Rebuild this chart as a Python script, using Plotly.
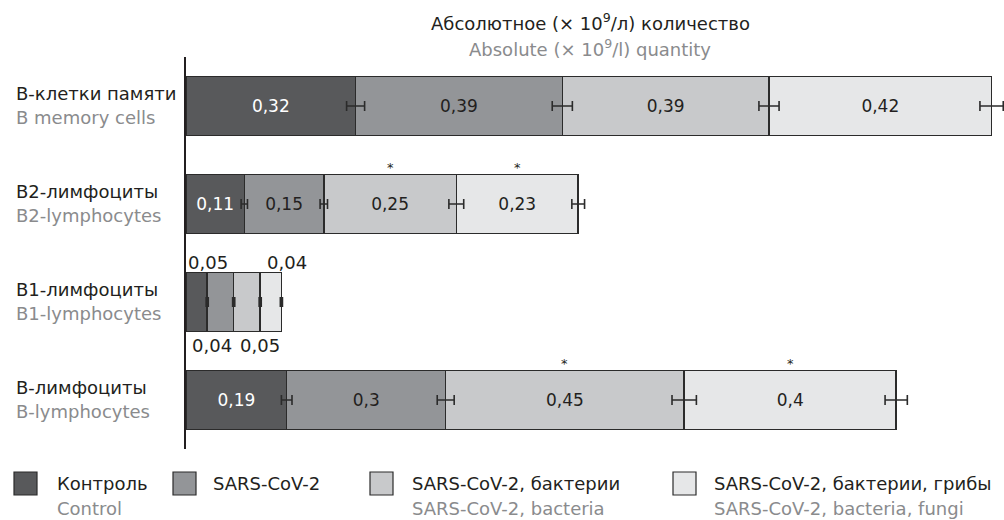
import numpy as np
import plotly.graph_objects as go

# ---------------- data ----------------
categories = ["B-клетки памяти", "B2-лимфоциты", "B1-лимфоциты", "B-лимфоциты"]
categories_en = ["B memory cells", "B2-lymphocytes", "B1-lymphocytes", "B-lymphocytes"]

series_ru = ["Контроль", "SARS-CoV-2", "SARS-CoV-2, бактерии", "SARS-CoV-2, бактерии, грибы"]
series_en = ["Control", "", "SARS-CoV-2, bacteria", "SARS-CoV-2, bacteria, fungi"]

control = [0.32, 0.11, 0.04, 0.19]
sars = [0.39, 0.15, 0.05, 0.30]
bacteria = [0.39, 0.25, 0.05, 0.45]
fungi = [0.42, 0.23, 0.04, 0.40]

control_err = [0.017, 0.006, 0.002, 0.010]
sars_err = [0.019, 0.007, 0.002, 0.016]
bacteria_err = [0.019, 0.014, 0.002, 0.023]
fungi_err = [0.022, 0.012, 0.002, 0.021]

# significance markers (series index, category index)
significant = [(2, 1), (3, 1), (2, 3), (3, 3)]

# category whose values are labelled outside the bar
outside_category = "B1-лимфоциты"

title_ru = "Абсолютное (× 10<sup>9</sup>/л) количество"
title_en = "Absolute (× 10<sup>9</sup>/l) quantity"

# ---------------- style ----------------
colors = ["#58595b", "#939598", "#c8c9cb", "#e6e7e8"]
text_colors = ["#ffffff", "#231f20", "#231f20", "#231f20"]
dark = "#231f20"
gray = "#8a8b8d"
FONT = "DejaVu Sans"
FS = 18
W, H = 1004, 520
L, R, T, B = 186, 0, 57, 71
PW, PH = W - L - R, H - T - B
X_MAX = PW / 530.0
# offsets (px) for the outside labels of the small category: (xshift, yshift)
outside_offsets = [(15, -43), (-12, 40), (13, -43), (16, 40)]


def fmt(v):
    return ("%g" % v).replace(".", ",")


def px_x(px):
    return (px - L) / PW


def px_y(py):
    return (H - B - py) / PH


values = [control, sars, bacteria, fungi]
errors = [control_err, sars_err, bacteria_err, fungi_err]
vals = np.array(values)
cum = np.cumsum(vals, axis=0)
starts = cum - vals

fig = go.Figure()

inside_idx = [k for k, c in enumerate(categories) if c != outside_category]
outside_idx = [k for k, c in enumerate(categories) if c == outside_category]

for i, name in enumerate(series_ru):
    bar_style = dict(color=colors[i], line=dict(color="#2b2b2b", width=1.5))
    # segments labelled inside the bar
    fig.add_trace(go.Bar(
        y=[categories[k] for k in inside_idx], x=[values[i][k] for k in inside_idx],
        orientation="h", name=name, marker=bar_style,
        text=[fmt(values[i][k]) for k in inside_idx], textposition="inside",
        insidetextanchor="middle", textangle=0, constraintext="none",
        textfont=dict(family=FONT, size=FS - 1, color=text_colors[i]),
        showlegend=False, hoverinfo="skip",
    ))
    # small segments, labelled outside with annotations
    fig.add_trace(go.Bar(
        y=[categories[k] for k in outside_idx], x=[values[i][k] for k in outside_idx],
        orientation="h", name=name, marker=bar_style,
        showlegend=False, hoverinfo="skip",
    ))

# error bars at the end of each stacked segment (drawn on top of all bars)
for i in range(len(series_ru)):
    fig.add_trace(go.Scatter(
        y=categories, x=cum[i], mode="markers",
        marker=dict(size=1, opacity=0),
        error_x=dict(type="data", array=errors[i], color="#2b2b2b", thickness=1.6, width=5),
        showlegend=False, hoverinfo="skip",
    ))

annotations = []
# title
annotations.append(dict(xref="paper", yref="paper", x=px_x(590), y=px_y(22), text=title_ru,
                        showarrow=False, xanchor="center", yanchor="middle",
                        font=dict(family=FONT, size=FS, color=dark)))
annotations.append(dict(xref="paper", yref="paper", x=px_x(590), y=px_y(48), text=title_en,
                        showarrow=False, xanchor="center", yanchor="middle",
                        font=dict(family=FONT, size=FS, color=gray)))

# category labels
for c, en in zip(categories, categories_en):
    annotations.append(dict(xref="paper", yref="y", x=px_x(14), y=c, yshift=13, text=c,
                            showarrow=False, xanchor="left", yanchor="middle",
                            font=dict(family=FONT, size=FS, color=dark)))
    annotations.append(dict(xref="paper", yref="y", x=px_x(14), y=c, yshift=-11, text=en,
                            showarrow=False, xanchor="left", yanchor="middle",
                            font=dict(family=FONT, size=FS, color=gray)))

# outside labels for the small category
ci = categories.index(outside_category)
for i in range(len(series_ru)):
    xs, ys = outside_offsets[i]
    annotations.append(dict(xref="x", yref="y", x=starts[i][ci] + vals[i][ci] / 2,
                            y=outside_category, xshift=xs, yshift=ys,
                            text=fmt(values[i][ci]), showarrow=False,
                            xanchor="center", yanchor="middle",
                            font=dict(family=FONT, size=FS, color=dark)))

# significance asterisks
for si, ci2 in significant:
    annotations.append(dict(xref="x", yref="y", x=starts[si][ci2] + vals[si][ci2] / 2,
                            y=categories[ci2], yshift=37, text="*", showarrow=False,
                            xanchor="center", yanchor="middle",
                            font=dict(family=FONT, size=13, color=dark)))

# legend (manual)
shapes = []
legend_sq_x = [14, 173, 370, 673]
legend_tx_x = [55, 211, 410, 712]
for i in range(len(series_ru)):
    shapes.append(dict(type="rect", xref="paper", yref="paper",
                       x0=px_x(legend_sq_x[i]), x1=px_x(legend_sq_x[i] + 23),
                       y0=px_y(495), y1=px_y(472),
                       fillcolor=colors[i], line=dict(color="#2b2b2b", width=1.2)))
    annotations.append(dict(xref="paper", yref="paper", x=px_x(legend_tx_x[i]), y=px_y(483),
                            text=series_ru[i], showarrow=False, xanchor="left", yanchor="middle",
                            font=dict(family=FONT, size=FS, color=dark)))
    if series_en[i]:
        annotations.append(dict(xref="paper", yref="paper", x=px_x(legend_tx_x[i]), y=px_y(508),
                                text=series_en[i], showarrow=False, xanchor="left", yanchor="middle",
                                font=dict(family=FONT, size=FS, color=gray)))

fig.update_layout(
    width=W, height=H,
    margin=dict(l=L, r=R, t=T, b=B, pad=0),
    barmode="stack", bargap=0.4,
    plot_bgcolor="white", paper_bgcolor="white",
    font=dict(family=FONT, size=FS, color=dark),
    xaxis=dict(range=[0, X_MAX], showgrid=False, zeroline=False, showticklabels=False,
               showline=False, ticks=""),
    yaxis=dict(categoryorder="array", categoryarray=categories, range=[3.5, -0.5],
               showgrid=False, zeroline=False, showticklabels=False, ticks="",
               showline=True, linecolor=dark, linewidth=2),
    annotations=annotations, shapes=shapes,
    showlegend=False,
)

fig.write_html(
    "out.html",
    config={"displayModeBar": False},
    post_script="document.body.style.margin='0';document.body.style.overflow='hidden';",
)
